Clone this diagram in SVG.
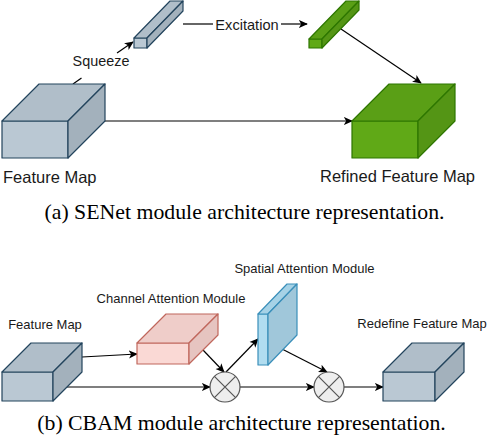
<svg xmlns="http://www.w3.org/2000/svg" width="488" height="436" viewBox="0 0 488 436">
<defs>
<marker id="arr" viewBox="0 0 10 10" refX="9" refY="5" markerWidth="9" markerHeight="9" markerUnits="userSpaceOnUse" orient="auto">
<path d="M0,0.5 L10,5 L0,9.5 L2.5,5 Z" fill="#000"/>
</marker>
</defs>
<style>
.lbl{font-family:"Liberation Sans",Arial,sans-serif;fill:#1a1a1a}
.cap{font-family:"Liberation Serif","Times New Roman",serif;font-size:21.8px;fill:#000;text-anchor:middle}
.ln{stroke:#000;stroke-width:1.2;fill:none}
.gray .f{fill:#bac8d3}.gray .t{fill:#b0bec9}.gray .r{fill:#a3b1bc}.gray path{stroke:#23445d;stroke-width:1.2;stroke-linejoin:round}
.green .f{fill:#60a917}.green .t{fill:#5a9f16}.green .r{fill:#549515}.green path{stroke:#2d7600;stroke-width:1.2;stroke-linejoin:round}
.pink .f{fill:#fad9d5}.pink .t{fill:#efcdc9}.pink .r{fill:#e6c4c0}.pink path{stroke:#c0675c;stroke-width:1.2;stroke-linejoin:round}
.blue .f{fill:#b1ddf0}.blue .t{fill:#a6d2e6}.blue .r{fill:#a0c7da}.blue path{stroke:#3a8fba;stroke-width:1.2;stroke-linejoin:round}
.op circle{fill:#eeeeee;stroke:#555;stroke-width:1.2}.op path{stroke:#555;stroke-width:1.2}
</style>

<g id="connectors">
<path class="ln" d="M73,84 L81.5,78"/>
<path class="ln" d="M117,53 L133,42" marker-end="url(#arr)"/>
<path class="ln" d="M183,24 L213,24"/>
<path class="ln" d="M281,24 L307,24" marker-end="url(#arr)"/>
<path class="ln" d="M341,29 L421,83" marker-end="url(#arr)"/>
<path class="ln" d="M105,121 L352,121" marker-end="url(#arr)"/>
<path class="ln" d="M82,357 L137,354" marker-end="url(#arr)"/>
<path class="ln" d="M67,387 L210,387" marker-end="url(#arr)"/>
<path class="ln" d="M203,350 L224,372" marker-end="url(#arr)"/>
<path class="ln" d="M226,372 L258,339" marker-end="url(#arr)"/>
<path class="ln" d="M282,349 L327,372" marker-end="url(#arr)"/>
<path class="ln" d="M240,387 L314,387" marker-end="url(#arr)"/>
<path class="ln" d="M344,387 L383,387" marker-end="url(#arr)"/>
</g>

<text class="lbl" x="101" y="66" font-size="14.4" text-anchor="middle">Squeeze</text>
<text class="lbl" x="247" y="30" font-size="14.6" text-anchor="middle">Excitation</text>

<g id="se-feature-map" class="gray">
<path class="f" d="M2,121 H68 V158 H2 Z"/>
<path class="t" d="M2,121 L39,84 H105 L68,121 Z"/>
<path class="r" d="M68,121 L105,84 V121 L68,158 Z"/>
<text class="lbl" x="3" y="183" font-size="16.5" stroke="none">Feature Map</text>
</g>

<g id="se-squeeze" class="gray">
<path class="f" d="M134,38 H147 V48 H134 Z"/>
<path class="t" d="M134,38 L170,1 H183 L147,38 Z"/>
<path class="r" d="M147,38 L183,1 V11 L147,48 Z"/>
</g>

<g id="se-excitation" class="green">
<path class="f" d="M309,39 H322 V48 H309 Z"/>
<path class="t" d="M309,39 L346,1 H359 L322,39 Z"/>
<path class="r" d="M322,39 L359,1 V10 L322,48 Z"/>
</g>

<g id="se-refined" class="green">
<path class="f" d="M352,121 H418 V158 H352 Z"/>
<path class="t" d="M352,121 L389,84 H455 L418,121 Z"/>
<path class="r" d="M418,121 L455,84 V121 L418,158 Z"/>
<text class="lbl" x="397.5" y="182" font-size="16.5" text-anchor="middle" stroke="none">Refined Feature Map</text>
</g>

<text class="cap" x="244.5" y="219">(a) SENet module architecture representation.</text>

<g id="cb-feature-map" class="gray">
<path class="f" d="M2,372 H53 V401 H2 Z"/>
<path class="t" d="M2,372 L31,343 H82 L53,372 Z"/>
<path class="r" d="M53,372 L82,343 V372 L53,401 Z"/>
<text class="lbl" x="45" y="329" font-size="13" text-anchor="middle" stroke="none">Feature Map</text>
</g>

<g id="cb-channel" class="pink">
<path class="f" d="M137,343 H189 V364 H137 Z"/>
<path class="t" d="M137,343 L166,314 H218 L189,343 Z"/>
<path class="r" d="M189,343 L218,314 V335 L189,364 Z"/>
<text class="lbl" x="171" y="303" font-size="13" text-anchor="middle" stroke="none">Channel Attention Module</text>
</g>

<g id="cb-spatial" class="blue">
<path class="f" d="M258,314 H268 V365 H258 Z"/>
<path class="t" d="M258,314 L287,284 H297 L268,314 Z"/>
<path class="r" d="M268,314 L297,284 V335 L268,365 Z"/>
<text class="lbl" x="304.5" y="273" font-size="13" text-anchor="middle" stroke="none">Spatial Attention Module</text>
</g>

<g id="cb-mul1" class="op">
<circle cx="225" cy="387" r="15"/>
<path d="M214.4,376.4 L235.6,397.6 M235.6,376.4 L214.4,397.6"/>
</g>

<g id="cb-mul2" class="op">
<circle cx="329" cy="387" r="15"/>
<path d="M318.4,376.4 L339.6,397.6 M339.6,376.4 L318.4,397.6"/>
</g>

<g id="cb-redefine" class="gray">
<path class="f" d="M383,372 H435 V401 H383 Z"/>
<path class="t" d="M383,372 L412,343 H464 L435,372 Z"/>
<path class="r" d="M435,372 L464,343 V372 L435,401 Z"/>
<text class="lbl" x="422" y="328" font-size="13" text-anchor="middle" stroke="none">Redefine Feature Map</text>
</g>

<text class="cap" x="241.5" y="430">(b) CBAM module architecture representation.</text>
</svg>
